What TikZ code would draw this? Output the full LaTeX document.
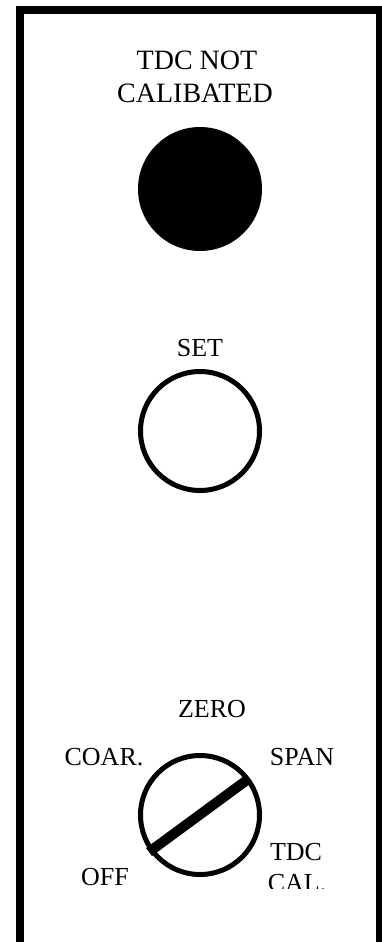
\documentclass[tikz,border=0pt]{standalone}
\usepackage{fontspec}
\setmainfont{Liberation Serif}
\begin{document}
\begin{tikzpicture}[x=1pt,y=-1pt,
  lbl/.style={anchor=base,inner sep=0pt,font=\fontsize{26}{30}\selectfont},
  toplbl/.style={lbl,font=\fontsize{28}{32}\selectfont},
  ring/.style={circle,draw,line width=5pt,inner sep=0pt,minimum size=119pt}]
  \useasboundingbox (0,0) rectangle (381,942);
  % panel frame, open at the bottom
  \draw[line width=8pt,line join=miter] (20,960) -- (20,10) -- (380,10) -- (380,960);

  % lamp
  \node[toplbl] (tdcnot) at (197,70) {TDC NOT};
  \node[toplbl] (calibated) at (195,102) {CALIBATED};
  \node[circle,fill,inner sep=0pt,minimum size=124pt] (lamp) at (200,189) {};

  % set button
  \node[lbl] (set) at (200,356) {SET};
  \node[ring] (setbtn) at (200,431) {};

  % mode switch
  \node[ring] (knob) at (200,815) {};
  \node[lbl] (zero) at (212,717) {ZERO};
  \node[lbl] (coar) at (104,765) {COAR.};
  \node[lbl] (span) at (302,765) {SPAN};
  \node[lbl] (off) at (105,885) {OFF};
  \node[lbl] (tdc) at (296,860) {TDC};
  \begin{scope}
    \clip (250,862) rectangle (345,888);
    \node[lbl] (cal) at (297,891) {CAL.};
  \end{scope}
  \path (knob.center) ++(-51,37) coordinate (barA);
  \path (knob.center) ++(47,-35) coordinate (barB);
  \draw[line width=10pt] (barA) -- (barB);
\end{tikzpicture}
\end{document}
